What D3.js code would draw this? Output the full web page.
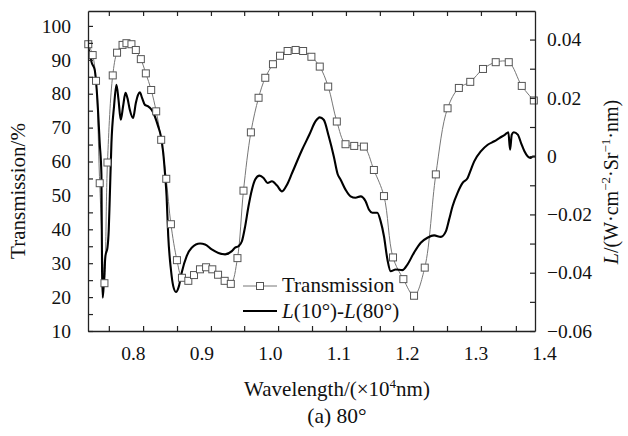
<!DOCTYPE html>
<html><head><meta charset="utf-8">
<script src="https://cdn.jsdelivr.net/npm/d3@7"></script>
<style>
html,body{margin:0;padding:0;background:#fff;}
svg text{font-family:"Liberation Serif","Times New Roman",serif !important;fill:#111;}
</style></head>
<body><svg id="c" width="628" height="436"></svg>
<script>
// Transmission (%) – left axis
const transWave = [0.735,0.7414,0.7463,0.7517,0.7586,0.763,0.7707,0.777,0.785,0.7907,0.798,0.8044,0.8117,0.819,0.8268,0.8341,0.8414,0.8488,0.8556,0.8644,0.8717,0.881,0.8893,0.898,0.9069,0.916,0.9244,0.934,0.943,0.9527,0.9615,0.9723,0.9835,0.9933,1.0045,1.0148,1.0259,1.0376,1.0485,1.0606,1.0728,1.0851,1.0977,1.1104,1.1231,1.1372,1.1518,1.1665,1.1797,1.1948,1.2104,1.226,1.2422,1.2593,1.2758,1.2924,1.311,1.3296,1.3486,1.3676,1.3852];
const transValue = [94.6,91.4,83.8,53.6,24.1,59.7,85.4,92.1,94.4,94.9,94.6,92.9,90.2,86.0,81.1,74.8,66.4,54.9,41.5,30.9,25.7,24.8,26.5,28.2,28.8,28.2,26.6,24.8,23.9,31.5,51.4,68.6,78.8,84.7,88.7,91.2,92.6,92.9,92.6,90.9,88.0,82.1,71.8,65.1,64.6,64.4,57.5,49.8,31.7,25.3,20.4,28.7,56.2,75.7,81.7,83.5,87.3,89.3,89.3,82.3,78.0];
// L(10°)-L(80°) – right axis
const diffWave = [0.7346,0.7356,0.7385,0.7395,0.7444,0.7483,0.7517,0.7542,0.7551,0.7561,0.758,0.76,0.763,0.7649,0.7663,0.7688,0.7726,0.7761,0.7791,0.7824,0.7858,0.7893,0.7922,0.7956,0.8004,0.8044,0.8078,0.8102,0.8136,0.8176,0.8224,0.8274,0.8322,0.837,0.841,0.8444,0.8469,0.8493,0.8517,0.8556,0.859,0.863,0.8673,0.8713,0.8786,0.8859,0.8981,0.9054,0.9152,0.9249,0.9347,0.9445,0.9493,0.9542,0.9592,0.964,0.9688,0.9738,0.9786,0.9849,0.9908,0.9966,1.0031,1.0104,1.0177,1.025,1.0324,1.047,1.0577,1.0665,1.0728,1.0786,1.0859,1.0933,1.0991,1.1031,1.1104,1.1177,1.125,1.1324,1.1397,1.1445,1.1495,1.1568,1.1616,1.1665,1.1715,1.1763,1.1836,1.1934,1.2007,1.2104,1.2202,1.23,1.2397,1.2495,1.2568,1.2616,1.2666,1.2739,1.2813,1.2886,1.2934,1.2982,1.3081,1.3179,1.3275,1.3349,1.3432,1.348,1.3505,1.353,1.3559,1.3618,1.3666,1.3715,1.3764,1.3803,1.3838,1.3869];
const diffValue = [0.0389,0.0365,0.0342,0.0325,0.0296,0.0194,0.0045,-0.0063,-0.0389,-0.0486,-0.0423,-0.0343,-0.0314,-0.0252,-0.0149,0.0045,0.0171,0.0245,0.0194,0.0125,0.0171,0.0217,0.0199,0.0159,0.0131,0.0182,0.0211,0.0219,0.0199,0.0176,0.0171,0.0159,0.0136,0.0102,0.0068,0.0011,-0.0058,-0.0138,-0.0275,-0.0389,-0.0446,-0.0466,-0.0446,-0.04,-0.0343,-0.0314,-0.03,-0.0303,-0.032,-0.0332,-0.0337,-0.0326,-0.0314,-0.0309,-0.0292,-0.024,-0.0172,-0.0115,-0.008,-0.0067,-0.0075,-0.0092,-0.0086,-0.0101,-0.0121,-0.0098,-0.0058,0.0022,0.0074,0.0119,0.0133,0.0125,0.0068,-0.0001,-0.0063,-0.008,-0.0115,-0.0138,-0.0143,-0.0138,-0.0155,-0.0183,-0.0194,-0.0194,-0.0223,-0.0275,-0.0354,-0.0395,-0.0389,-0.0391,-0.0372,-0.0331,-0.0297,-0.028,-0.0272,-0.0277,-0.0258,-0.0217,-0.0172,-0.0126,-0.0092,-0.0075,-0.0046,-0.0018,0.0017,0.0039,0.0051,0.0062,0.0074,0.0082,0.0022,0.0074,0.0082,0.0074,0.0045,0.0017,-0.0001,-0.0006,-0.0001,-0.0001];

const xLabelValues = [0.8,0.9,1.0,1.1,1.2,1.3,1.4];
const xTickMarks = [0.765,0.815,0.8645,0.914,0.9625,1.012,1.0615,1.111,1.1605,1.209,1.2585,1.308,1.359];
const leftTicks = d3.range(10,101,5);
const leftLabels = [10,20,30,40,50,60,70,80,90,100];
const rightTicks = d3.range(-6,5).map(i=>i/100);
const rightLabels = [-0.06,-0.04,-0.02,0,0.02,0.04];
const seriesNames = ["Transmission","L(10°)-L(80°)"];

const FONT = '"Liberation Serif","Times New Roman",serif';
const svg = d3.select("#c");
const L=88,R=535,T=11,B=331;
const x = d3.scaleLinear().domain([0.7346,1.3869]).range([L,R]);
const yL = d3.scaleLinear().domain([10,104.4]).range([B,T]);
const yR = d3.scaleLinear().domain([-0.06,0.0498]).range([B,T]);

const transData = transWave.map((w,i)=>({w,v:transValue[i]}));
const diffData = diffWave.map((w,i)=>({w,v:diffValue[i]}));
svg.append("clipPath").attr("id","pc").append("rect").attr("x",L).attr("y",T).attr("width",R-L).attr("height",B-T);
const plot = svg.append("g").attr("clip-path","url(#pc)");

plot.append("path").datum(transData)
  .attr("d", d3.line().x(d=>x(d.w)).y(d=>yL(d.v)).curve(d3.curveCatmullRom.alpha(0.5)))
  .attr("fill","none").attr("stroke","#777").attr("stroke-width",1);

plot.append("path").datum(diffData)
  .attr("d", d3.line().x(d=>x(d.w)).y(d=>yR(d.v)).curve(d3.curveMonotoneX))
  .attr("fill","none").attr("stroke","#000").attr("stroke-width",2.1).attr("stroke-linejoin","round");

const ms=7;
svg.append("g").selectAll("rect").data(transData).join("rect")
  .attr("x",d=>x(d.w)-ms/2).attr("y",d=>yL(d.v)-ms/2).attr("width",ms).attr("height",ms)
  .attr("fill","#fff").attr("stroke","#555").attr("stroke-width",1);

function style(g){
  g.attr("font-family",null).attr("font-size",null);
  g.selectAll(".domain").attr("stroke","#222").attr("stroke-width",1.3);
  g.selectAll(".tick line").attr("stroke","#222").attr("stroke-width",1.2);
  g.selectAll("text").style("font-family",FONT).style("font-size","19.5px").attr("fill","#111");
}

svg.append("g").attr("transform",`translate(0,${B})`)
  .call(d3.axisBottom(x).tickValues(xTickMarks).tickSizeInner(-5).tickSizeOuter(0).tickFormat(""))
  .call(style);
svg.append("g").attr("transform",`translate(0,${B})`)
  .call(d3.axisBottom(x).tickValues(xLabelValues).tickSize(0).tickPadding(15).tickFormat(d3.format(".1f")))
  .call(style)
  .call(g=>g.select(".domain").remove());
svg.append("g").attr("transform",`translate(0,${T})`)
  .call(d3.axisTop(x).tickValues(xTickMarks).tickSizeInner(-5).tickSizeOuter(0).tickFormat(""))
  .call(style);
svg.append("g").attr("transform",`translate(${L},0)`)
  .call(d3.axisLeft(yL).tickValues(leftTicks).tickSizeInner(-5).tickSizeOuter(0).tickPadding(17)
    .tickFormat(d=>leftLabels.includes(d)?d:""))
  .call(style);
svg.append("g").attr("transform",`translate(${R},0)`)
  .call(d3.axisRight(yR).tickValues(rightTicks).tickSizeInner(-5).tickSizeOuter(0).tickPadding(12)
    .tickFormat(d=>rightLabels.some(r=>Math.abs(r-d)<1e-9)?(Math.abs(d)<1e-9?"0":d3.format(".2f")(d)):""))
  .call(style);

// titles
const t = (sel)=>sel.style("font-family",FONT);
svg.append("text").attr("x",337).attr("y",396).attr("text-anchor","middle").attr("font-size",21).call(t)
  .html('Wavelength/(×10<tspan dy="-8" font-size="13">4</tspan><tspan dy="8">nm)</tspan>');
svg.append("text").attr("x",337).attr("y",423).attr("text-anchor","middle").attr("font-size",21.5).call(t)
  .text("(a) 80°");
svg.append("text").attr("transform","translate(25,191) rotate(-90)").attr("text-anchor","middle").attr("font-size",21).call(t)
  .text("Transmission/%");
svg.append("text").attr("transform","translate(618,182) rotate(-90)").attr("text-anchor","middle").attr("font-size",20).call(t)
  .html('<tspan font-style="italic">L</tspan>/(W·cm<tspan dy="-8" font-size="13">−2</tspan><tspan dy="8">·Sr</tspan><tspan dy="-8" font-size="13">−1</tspan><tspan dy="8">·nm)</tspan>');

// legend
const lg = svg.append("g");
lg.append("line").attr("x1",243).attr("x2",277).attr("y1",286).attr("y2",286).attr("stroke","#777").attr("stroke-width",1);
lg.append("rect").attr("x",260-ms/2).attr("y",286-ms/2).attr("width",ms).attr("height",ms).attr("fill","#fff").attr("stroke","#555");
lg.append("text").attr("x",282).attr("y",292).attr("font-size",21).call(t).text(seriesNames[0]);
lg.append("line").attr("x1",243).attr("x2",277).attr("y1",311).attr("y2",311).attr("stroke","#000").attr("stroke-width",2.1);
lg.append("text").attr("x",282).attr("y",318).attr("font-size",21).call(t)
  .html('<tspan font-style="italic">L</tspan>(10°)-<tspan font-style="italic">L</tspan>(80°)');
</script></body></html>
